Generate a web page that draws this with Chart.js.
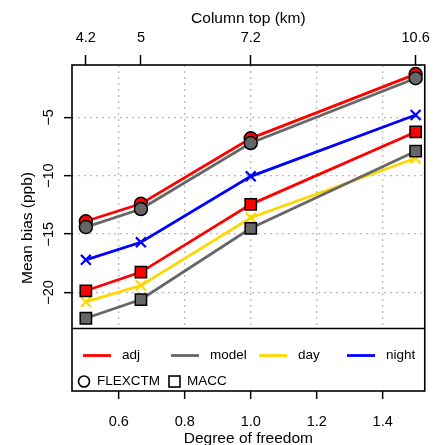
<!DOCTYPE html>
<html>
<head>
<meta charset="utf-8">
<script src="https://cdn.jsdelivr.net/npm/chart.js@4"></script>
<style>html,body{margin:0;padding:0;background:#fff}</style>
</head>
<body>
<canvas id="c" width="438" height="445"></canvas>
<script>
// degrees of freedom and matching column tops
const dof = [0.5, 0.667, 1.0, 1.5];
const columnTop = ['4.2', '5', '7.2', '10.6'];
const xTicks = [0.6, 0.8, 1.0, 1.2, 1.4];
const yTicks = [-20, -15, -10, -5];

// mean bias (ppb)
const flexModel = [-14.4, -12.85, -7.2, -1.65];
const flexAdj   = [-13.9, -12.4, -6.8, -1.3];
const maccModel = [-22.2, -20.6, -14.5, -7.9];
const maccAdj   = [-19.85, -18.25, -12.45, -6.25];
const dayBias   = [-20.8, -19.4, -13.6, -8.5];
const nightBias = [-17.2, -15.7, -10.05, -4.8];

const lineNames  = ['adj', 'model', 'day', 'night'];
const lineColors = ['#ff0000', '#666666', '#ffd700', '#0000ff'];
const shapeNames = ['FLEXCTM', 'MACC'];

const xMin = 0.458, xMax = 1.5276;
const yMin = -28.43, yMax = -0.52;
const legendTop = -23.08;   // value where the legend panel starts

const FONT = "'Liberation Sans', Arial, Helvetica, sans-serif";
const tickFont = {family: FONT, size: 14.5};
const titleFont = {family: FONT, size: 15.5};

function pts(arr) {
    return arr.map((v, i) => ({x: dof[i], y: v}));
}

function series(data, color, shape, fill) {
    return {
        data: pts(data),
        borderColor: color,
        borderWidth: 2.8,
        pointStyle: shape,
        pointRadius: shape === 'circle' ? 6.5 : (shape === 'rect' ? 8 : 7),
        pointBackgroundColor: fill || color,
        pointBorderColor: fill ? '#000' : color,
        pointBorderWidth: fill ? 1.5 : 2.2,
        tension: 0
    };
}

const frame = {
    id: 'frame',
    beforeDatasetsDraw(chart) {
        const {ctx, chartArea: a, scales: {y}} = chart;
        const sep = y.getPixelForValue(legendTop);
        ctx.save();
        ctx.fillStyle = '#fff';
        ctx.fillRect(a.left, sep, a.right - a.left, a.bottom - sep);
        ctx.restore();
    },
    afterDraw(chart) {
        const {ctx, chartArea: a, scales: {y}} = chart;
        const sep = y.getPixelForValue(legendTop);
        ctx.save();
        ctx.strokeStyle = '#000';
        ctx.lineWidth = 1.6;
        ctx.strokeRect(a.left, a.top, a.right - a.left, a.bottom - a.top);
        ctx.beginPath();
        ctx.moveTo(a.left, sep);
        ctx.lineTo(a.right, sep);
        ctx.stroke();

        // legend, row 1: line colours
        ctx.font = "13.5px " + FONT;
        ctx.textBaseline = 'middle';
        ctx.fillStyle = '#000';
        const row1 = sep + 27, row2 = sep + 53;
        lineNames.forEach((name, i) => {
            const x0 = a.left + 11 + i * 88;
            ctx.strokeStyle = lineColors[i];
            ctx.lineWidth = 2.8;
            ctx.beginPath();
            ctx.moveTo(x0, row1);
            ctx.lineTo(x0 + 28, row1);
            ctx.stroke();
            ctx.fillText(name, x0 + 39, row1);
        });

        // legend, row 2: marker shapes
        ctx.strokeStyle = '#000';
        ctx.lineWidth = 1.6;
        ctx.beginPath();
        ctx.arc(a.left + 12, row2, 5.5, 0, Math.PI * 2);
        ctx.stroke();
        ctx.fillText(shapeNames[0], a.left + 25, row2);
        ctx.strokeRect(a.left + 97, row2 - 5.5, 11, 11);
        ctx.fillText(shapeNames[1], a.left + 115, row2);
        ctx.restore();
    }
};

const gridOpts = {
    color: '#bdbdbd',
    lineWidth: 1.3,
    tickColor: '#000',
    tickWidth: 1.5,
    tickLength: 8
};

new Chart(document.getElementById('c'), {
    type: 'line',
    data: {
        datasets: [
            series(flexModel, lineColors[1], 'circle', '#666666'),
            series(flexAdj, lineColors[0], 'circle', '#ff0000'),
            series(maccModel, lineColors[1], 'rect', '#666666'),
            series(maccAdj, lineColors[0], 'rect', '#ff0000'),
            series(dayBias, lineColors[2], 'crossRot'),
            series(nightBias, lineColors[3], 'crossRot')
        ]
    },
    options: {
        responsive: false,
        animation: false,
        layout: {padding: {left: 0, right: 5, top: 0, bottom: 0}},
        plugins: {legend: {display: false}, tooltip: {enabled: false}},
        scales: {
            x: {
                type: 'linear', position: 'bottom', min: xMin, max: xMax,
                afterBuildTicks: s => { s.ticks = xTicks.map(v => ({value: v})); },
                afterFit: s => { s.height = 54; },
                ticks: {callback: v => v.toFixed(1), padding: 14, maxRotation: 0, font: tickFont, color: '#000'},
                grid: gridOpts,
                border: {display: false, dash: [2, 4]},
                title: {display: true, text: 'Degree of freedom', font: titleFont, color: '#000', padding: {top: 0, bottom: -3}}
            },
            x2: {
                type: 'linear', position: 'top', min: xMin, max: xMax,
                afterBuildTicks: s => { s.ticks = dof.map(v => ({value: v})); },
                afterFit: s => { s.height = 65; },
                ticks: {callback: (v, i) => columnTop[i], padding: 8, maxRotation: 0, font: tickFont, color: '#000'},
                grid: {drawOnChartArea: false, tickColor: '#000', tickWidth: 1.5, tickLength: 10},
                border: {display: false},
                title: {display: true, text: 'Column top (km)', font: titleFont, color: '#000', padding: {top: 9, bottom: 0}}
            },
            y: {
                type: 'linear', min: yMin, max: yMax,
                afterBuildTicks: s => { s.ticks = yTicks.map(v => ({value: v})); },
                afterFit: s => { s.width = 72; },
                ticks: {
                    minRotation: 90, maxRotation: 90, crossAlign: 'center', padding: 3,
                    callback: v => String(v).replace('-', '\u2212'), font: tickFont, color: '#000'
                },
                grid: gridOpts,
                border: {display: false, dash: [2, 4]},
                title: {display: true, text: 'Mean bias (ppb)', font: titleFont, color: '#000', padding: {top: 18, bottom: 0}}
            }
        }
    },
    plugins: [frame]
});
</script>
</body>
</html>
